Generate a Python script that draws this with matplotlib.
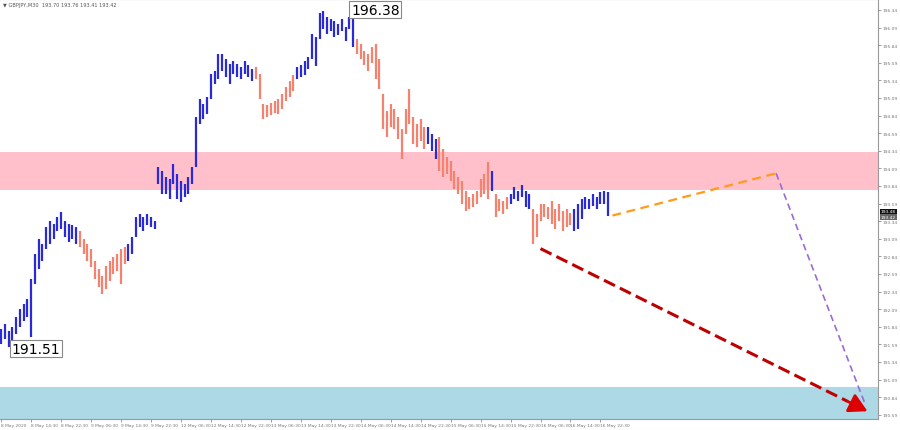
import matplotlib
matplotlib.use("Agg")
import matplotlib.pyplot as plt

# ---- data (H/L of each bar) ----
highs = [191.81, 191.88, 191.78, 191.84, 191.98, 192.09, 192.16, 192.23, 192.52, 192.87,
         193.09, 193.02, 193.26, 193.34, 193.30, 193.40, 193.47, 193.34, 193.30, 193.29,
         193.26, 193.20, 193.09, 193.02, 192.95, 192.77, 192.66, 192.56, 192.70, 192.77,
         192.83, 192.87, 192.95, 192.98, 193.02, 193.12, 193.40, 193.44, 193.40, 193.44,
         193.40, 193.34, 194.11, 194.05, 193.97, 193.94, 194.15, 194.01, 193.91, 193.87,
         193.97, 194.11, 194.82, 195.08, 195.00, 195.10, 195.43, 195.47, 195.72, 195.72,
         195.64, 195.57, 195.62, 195.57, 195.53, 195.62, 195.56, 195.50, 195.53, 195.43,
         195.00, 194.99, 195.02, 195.05, 195.08, 195.15, 195.25, 195.33, 195.42, 195.53,
         195.56, 195.62, 195.67, 196.00, 195.96, 196.30, 196.33, 196.24, 196.21, 196.18,
         196.14, 196.21, 196.10, 196.24, 196.38, 195.93, 195.86, 195.76, 195.72, 195.82,
         195.86, 195.64, 195.15, 194.91, 195.01, 194.93, 194.82, 194.65, 194.93, 195.22,
         194.82, 194.72, 194.79, 194.68, 194.68, 194.58, 194.51, 194.54, 194.37, 194.25,
         194.20, 194.05, 193.97, 193.91, 193.77, 193.69, 193.73, 193.77, 193.94, 194.01,
         194.18, 194.05, 193.73, 193.66, 193.63, 193.69, 193.73, 193.83, 193.77, 193.86,
         193.77, 193.73, 193.51, 193.44, 193.58, 193.58, 193.54, 193.63, 193.51, 193.58,
         193.48, 193.51, 193.46, 193.51, 193.58, 193.66, 193.69, 193.66, 193.72, 193.69,
         193.75, 193.77, 193.76]
lows = [191.60, 191.67, 191.55, 191.60, 191.74, 191.84, 191.92, 191.98, 191.70, 192.45,
        192.66, 192.77, 192.95, 193.02, 193.09, 193.20, 193.23, 193.12, 193.05, 193.09,
        193.02, 192.97, 192.88, 192.77, 192.69, 192.52, 192.41, 192.31, 192.38, 192.49,
        192.59, 192.63, 192.45, 192.73, 192.77, 192.87, 193.12, 193.26, 193.20, 193.29,
        193.26, 193.23, 193.87, 193.73, 193.73, 193.66, 193.87, 193.66, 193.61, 193.69,
        193.73, 193.87, 194.11, 194.72, 194.79, 194.86, 195.08, 195.29, 195.36, 195.47,
        195.39, 195.29, 195.43, 195.39, 195.36, 195.43, 195.39, 195.33, 195.36, 195.08,
        194.79, 194.82, 194.85, 194.88, 194.86, 194.93, 195.05, 195.11, 195.19, 195.36,
        195.39, 195.42, 195.50, 195.64, 195.54, 195.93, 196.07, 196.00, 196.04, 195.96,
        195.99, 196.04, 195.90, 196.07, 195.81, 195.71, 195.64, 195.56, 195.47, 195.59,
        195.36, 195.22, 194.65, 194.54, 194.68, 194.65, 194.51, 194.22, 194.58, 194.72,
        194.44, 194.39, 194.48, 194.37, 194.44, 194.34, 194.22, 194.05, 193.97, 194.01,
        193.91, 193.80, 193.73, 193.58, 193.48, 193.51, 193.54, 193.58, 193.69, 193.73,
        193.66, 193.77, 193.40, 193.48, 193.44, 193.51, 193.58, 193.66, 193.63, 193.69,
        193.54, 193.51, 193.02, 193.12, 193.34, 193.40, 193.37, 193.30, 193.23, 193.34,
        193.20, 193.26, 193.29, 193.20, 193.23, 193.37, 193.51, 193.51, 193.55, 193.51,
        193.58, 193.58, 193.41]
# wave segments: first bar index of each segment and its direction
wave_starts = [0, 21, 34, 68, 79, 95, 114, 117, 131, 132, 136, 142, 153]
wave_dirs = ["up", "down", "up", "down", "up", "down", "up", "down", "up", "down", "up", "down", "up"]

time_labels = ["8 May 2020", "8 May 14:30", "8 May 22:30", "9 May 06:30", "9 May 14:30",
               "9 May 22:30", "12 May 06:30", "12 May 14:30", "12 May 22:30", "13 May 06:30",
               "13 May 14:30", "13 May 22:30", "14 May 06:30", "14 May 14:30", "14 May 22:30",
               "15 May 06:30", "15 May 14:30", "15 May 22:30", "16 May 06:30", "16 May 14:30",
               "16 May 22:30"]
price_ticks = [196.34, 196.09, 195.84, 195.59, 195.34, 195.09, 194.84, 194.59, 194.34,
               194.09, 193.84, 193.59, 193.34, 193.09, 192.84, 192.59, 192.34, 192.09,
               191.84, 191.59, 191.34, 191.09, 190.84, 190.59]

resist_zone = [193.78, 194.32]
support_zone = [190.40, 190.985]

orange_t = [163.2, 206.9]
orange_p = [193.42, 194.02]
purple_t = [206.9, 230.6]
purple_p = [194.02, 190.75]
red_t = [144.0, 231.3]
red_p = [192.95, 190.64]

high_label = 196.38
low_label = 191.51
bid_ask = ["193.48", "193.42"]
header = "\u25BC GBPJPY,M30  193.70 193.76 193.41 193.42"

# ---- figure ----
W, H = 900, 431
fig = plt.figure(figsize=(W / 100, H / 100), dpi=100)
ax = fig.add_axes([0.0, 11 / H, 878 / W, 420 / H])
ax.set_xlim(-0.3, 234.1)
ax.set_ylim(190.53, 196.496)

ax.axhspan(resist_zone[0], resist_zone[1], color="#FFC0CB", zorder=0, lw=0)
ax.axhspan(190.0, support_zone[1], color="#ADD8E6", zorder=0, lw=0)

colors = {"up": "#2A2AD8", "down": "#F4826E"}
bounds = wave_starts + [len(highs)]
for k, d in enumerate(wave_dirs):
    idx = list(range(bounds[k], bounds[k + 1]))
    ax.vlines(idx, [lows[i] for i in idx], [highs[i] for i in idx],
              colors=colors[d], lw=1.6, zorder=3)

ax.plot(orange_t, orange_p, color="#FF9A1A", lw=1.6, dashes=(4, 2.5), zorder=4)
ax.plot(purple_t, purple_p, color="#9A6BD6", lw=1.2, dashes=(4, 2.5), zorder=4)
# red arrow: dashed shaft + solid head
fr = 0.94
mid_t = red_t[0] + (red_t[1] - red_t[0]) * fr
mid_p = red_p[0] + (red_p[1] - red_p[0]) * fr
ax.plot([red_t[0], mid_t], [red_p[0], mid_p], color="#C00000", lw=2.2, dashes=(4, 1.8), zorder=5)
ax.annotate("", xy=(red_t[1], red_p[1]), xytext=(mid_t, mid_p),
            arrowprops=dict(arrowstyle="-|>,head_length=1.0,head_width=0.55", color="#DD0000",
                            lw=2.0, mutation_scale=11, shrinkA=0, shrinkB=0), zorder=6)

box = dict(boxstyle="square,pad=0.12", fc="white", ec="#888888", lw=0.8)
ax.text(93.4, 196.345, f"{high_label:.2f}", ha="left", va="center", fontsize=10,
        color="black", bbox=box, zorder=7)
ax.text(2.7, 191.53, f"{low_label:.2f}", ha="left", va="center", fontsize=10,
        color="black", bbox=box, zorder=7)

# axes styling
ax.spines["left"].set_visible(False)
for s in ["top", "right", "bottom"]:
    ax.spines[s].set_color("#9a9a9a")
    ax.spines[s].set_linewidth(0.8)
ax.yaxis.set_ticks_position("right")
ax.set_yticks(price_ticks)
ax.set_yticklabels([f"{p:.2f}" for p in price_ticks])
ax.tick_params(axis="y", labelsize=3.2, colors="#777777", length=2, pad=1.5, width=0.5)
ax.set_xticks([8 * k for k in range(len(time_labels))])
ax.set_xticklabels(time_labels, ha="left")
ax.tick_params(axis="x", labelsize=3.2, colors="#777777", length=2, pad=1.0, width=0.5)

# current price boxes on the price scale
fig.text(881 / W, 1 - 212.5 / H, bid_ask[0], fontsize=3.2, color="white", ha="left", va="center",
         bbox=dict(boxstyle="square,pad=0.12", fc="#111111", ec="none"))
fig.text(881 / W, 1 - 218 / H, bid_ask[1], fontsize=3.2, color="white", ha="left", va="center",
         bbox=dict(boxstyle="square,pad=0.12", fc="#666666", ec="none"))

fig.text(3 / W, 1 - 5 / H, header, fontsize=3.6, color="#555555", ha="left", va="center")

fig.savefig("out.png", dpi=100)
